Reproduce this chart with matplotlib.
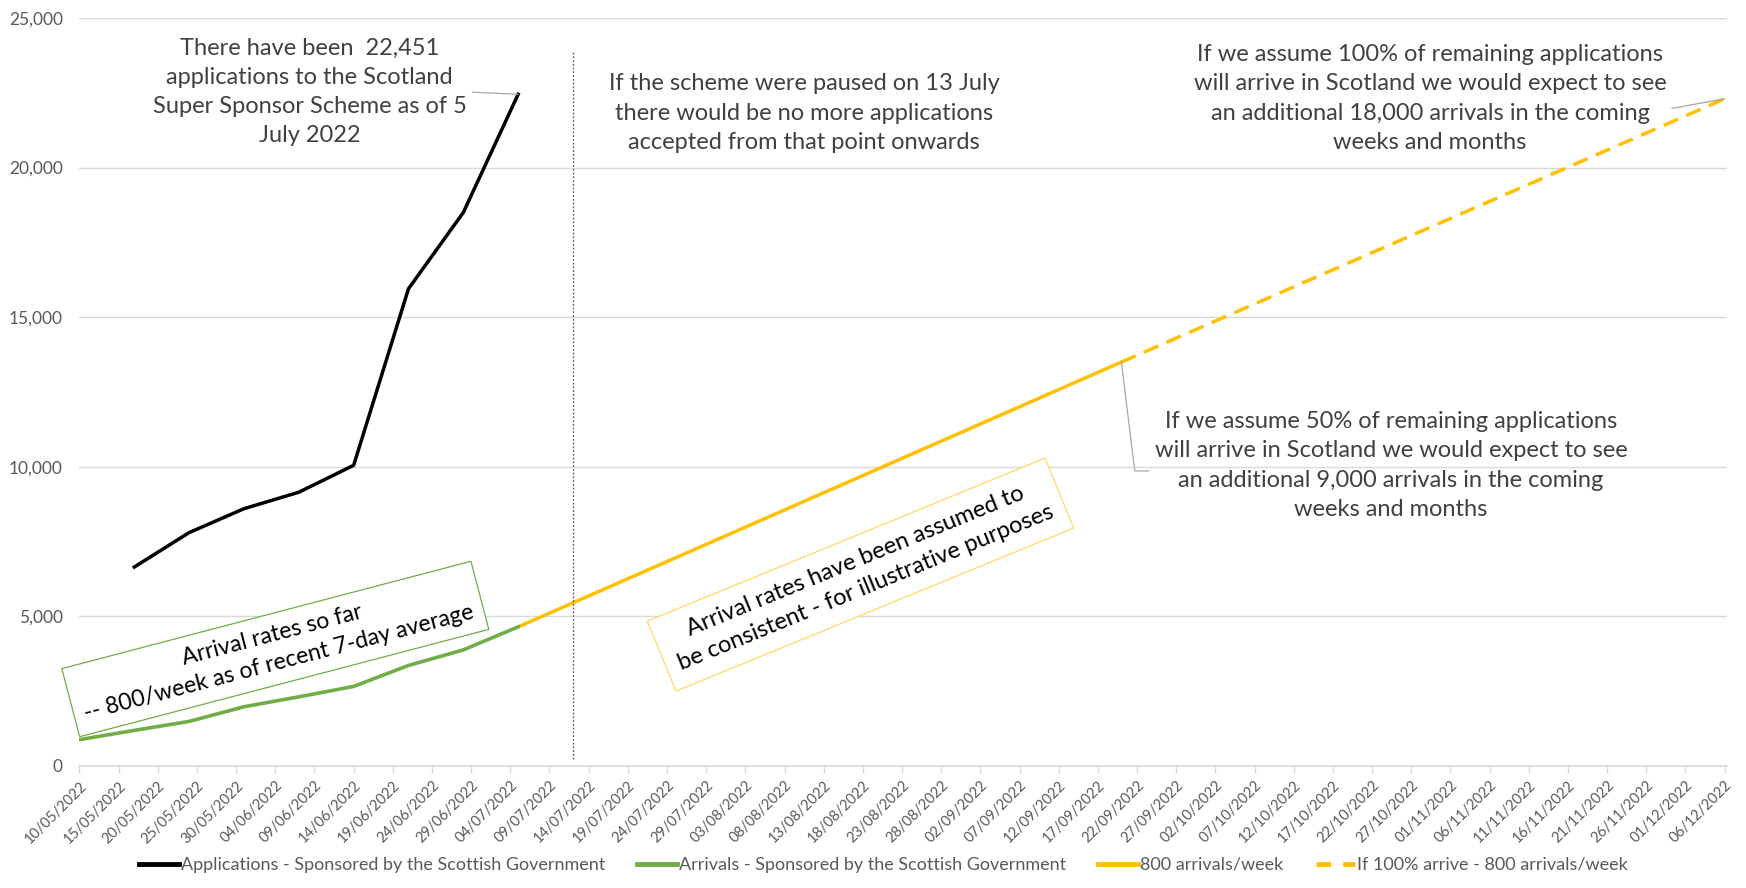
import datetime as dt
import matplotlib
matplotlib.use("Agg")
import matplotlib.pyplot as plt
import matplotlib.dates as mdates
import pandas as pd
from matplotlib.lines import Line2D
from matplotlib.ticker import FuncFormatter

# data (weekly, Tuesdays)
app_dates = ["17/05/2022", "24/05/2022", "31/05/2022", "07/06/2022",
             "14/06/2022", "21/06/2022", "28/06/2022", "05/07/2022"]
app_values = [6650, 7800, 8600, 9150, 10050, 15950, 18500, 22451]

arr_dates = ["10/05/2022", "17/05/2022", "24/05/2022", "31/05/2022", "07/06/2022",
             "14/06/2022", "21/06/2022", "28/06/2022", "05/07/2022"]
arr_values = [880, 1190, 1490, 1980, 2310, 2660, 3360, 3880, 4650]

# 800 arrivals/week projection
proj_dates = ["05/07/2022", "20/09/2022"]
proj_values = [4650, 13500]

# if 100% arrive
full_dates = ["20/09/2022", "06/12/2022"]
full_values = [13500, 22300]

pause_date = "12/07/2022"
pause_span = [250, 23900]

axis_start, axis_end = "10/05/2022", "06/12/2022"
y_ticks = [0, 5000, 10000, 15000, 20000, 25000]

legend_labels = ["Applications - Sponsored by the Scottish Government",
                 "Arrivals - Sponsored by the Scottish Government",
                 "800 arrivals/week",
                 "If 100% arrive - 800 arrivals/week"]


def d(s):
    return dt.datetime.strptime(s, "%d/%m/%Y")


def dn(s, extra=0.0):
    return mdates.date2num(d(s)) + extra


plt.rcParams["font.family"] = ["Lato", "DejaVu Sans"]

GREEN = "#70AD47"
GOLD = "#FFC000"
GRID = "#D9D9D9"
TXT = "#404040"

fig = plt.figure(figsize=(17.46, 8.88), dpi=100)
ax = fig.add_axes([0.0455, 0.1374, 0.9436, 0.8423])

ax.plot([d(s) for s in proj_dates], proj_values, color=GOLD, lw=2.5, solid_capstyle="butt")
ax.plot([d(s) for s in full_dates], full_values, color=GOLD, lw=2.5, dashes=(4.5, 2.6))
ax.plot([d(s) for s in arr_dates], arr_values, color=GREEN, lw=2.6)
ax.plot([d(s) for s in app_dates], app_values, color="black", lw=2.5)

ax.vlines(d(pause_date), pause_span[0], pause_span[1], color="#595959",
          lw=0.9, linestyles=(0, (1.5, 1.5)))

ticks = pd.date_range(d(axis_start), d(axis_end), freq="5D")
ax.set_xticks(ticks)
ax.xaxis.set_major_formatter(mdates.DateFormatter("%d/%m/%Y"))
ax.set_xlim(d(axis_start), dn(axis_end, 0.3))
ax.set_ylim(0, 25000)
ax.set_yticks(y_ticks)
ax.yaxis.set_major_formatter(FuncFormatter(lambda v, p: f"{int(v):,}"))

for lab in ax.get_xticklabels():
    lab.set_rotation(45)
    lab.set_ha("right")
    lab.set_rotation_mode("anchor")
ax.tick_params(axis="x", colors="#595959", labelsize=10.5, length=5, width=1, pad=4)
ax.tick_params(axis="x", color=GRID)
ax.tick_params(axis="y", colors="#595959", labelsize=12.5, length=0, pad=12)

for side in ["top", "right", "left"]:
    ax.spines[side].set_visible(False)
ax.spines["bottom"].set_color(GRID)
ax.spines["bottom"].set_linewidth(1.2)
ax.yaxis.grid(True, color=GRID, lw=1)
ax.set_axisbelow(True)

grey_leader = dict(arrowstyle="-", color="#A6A6A6", lw=0.9, shrinkA=2, shrinkB=0)
note = dict(ha="center", va="center", fontsize=17, color=TXT, linespacing=1.48)

ax.annotate("There have been  22,451\napplications to the Scotland\nSuper Sponsor Scheme as of 5\nJuly 2022",
            xy=(d("05/07/2022"), 22451), xytext=(dn(axis_start, 29.4), 22530),
            arrowprops=dict(grey_leader, relpos=(1, 0.5)), **note)

ax.text(dn(axis_start, 92.5), 21825,
        "If the scheme were paused on 13 July\nthere would be no more applications\naccepted from that point onwards",
        **note)

ax.annotate("If we assume 100% of remaining applications\nwill arrive in Scotland we would expect to see\n"
            "an additional 18,000 arrivals in the coming\nweeks and months",
            xy=(d(full_dates[-1]), full_values[-1]), xytext=(dn(axis_start, 172.4), 22310),
            arrowprops=dict(grey_leader, relpos=(1, 0.4)), **note)

ax.annotate("If we assume 50% of remaining applications\nwill arrive in Scotland we would expect to see\n"
            "an additional 9,000 arrivals in the coming\nweeks and months",
            xy=(d(proj_dates[-1]), proj_values[-1]), xytext=(dn(axis_start, 167.4), 10043),
            arrowprops=dict(grey_leader, relpos=(0, 0.45),
                            connectionstyle="angle,angleA=0,angleB=97,rad=0"), **note)

ax.text(dn(axis_start, 25), 3910,
        "Arrival rates so far\n-- 800/week as of recent 7-day average",
        rotation=14.7, rotation_mode="anchor", ha="center", va="center",
        multialignment="center", fontsize=16.6, color="black", linespacing=1.45,
        bbox=dict(boxstyle="square,pad=0.45", fc="white", ec=GREEN, lw=0.9))

ax.text(dn(axis_start, 99.7), 6397,
        "Arrival rates have been assumed to\nbe consistent - for illustrative purposes",
        rotation=22.3, rotation_mode="anchor", ha="center", va="center",
        multialignment="center", fontsize=17, color="black", linespacing=1.45,
        bbox=dict(boxstyle="square,pad=0.55", fc="white", ec="#FFD966", lw=0.9))

handles = [Line2D([], [], color="black", lw=3.5),
           Line2D([], [], color=GREEN, lw=3.5),
           Line2D([], [], color=GOLD, lw=3.5),
           Line2D([], [], color=GOLD, lw=3.5, dashes=(3, 2.5))]
fig.legend(handles, legend_labels, loc="center", bbox_to_anchor=(0.506, 0.026),
           ncol=4, frameon=False, fontsize=13, handlelength=2.2, handletextpad=0.1,
           columnspacing=1.8, labelcolor="#595959")

fig.savefig("out.png", dpi=100)
